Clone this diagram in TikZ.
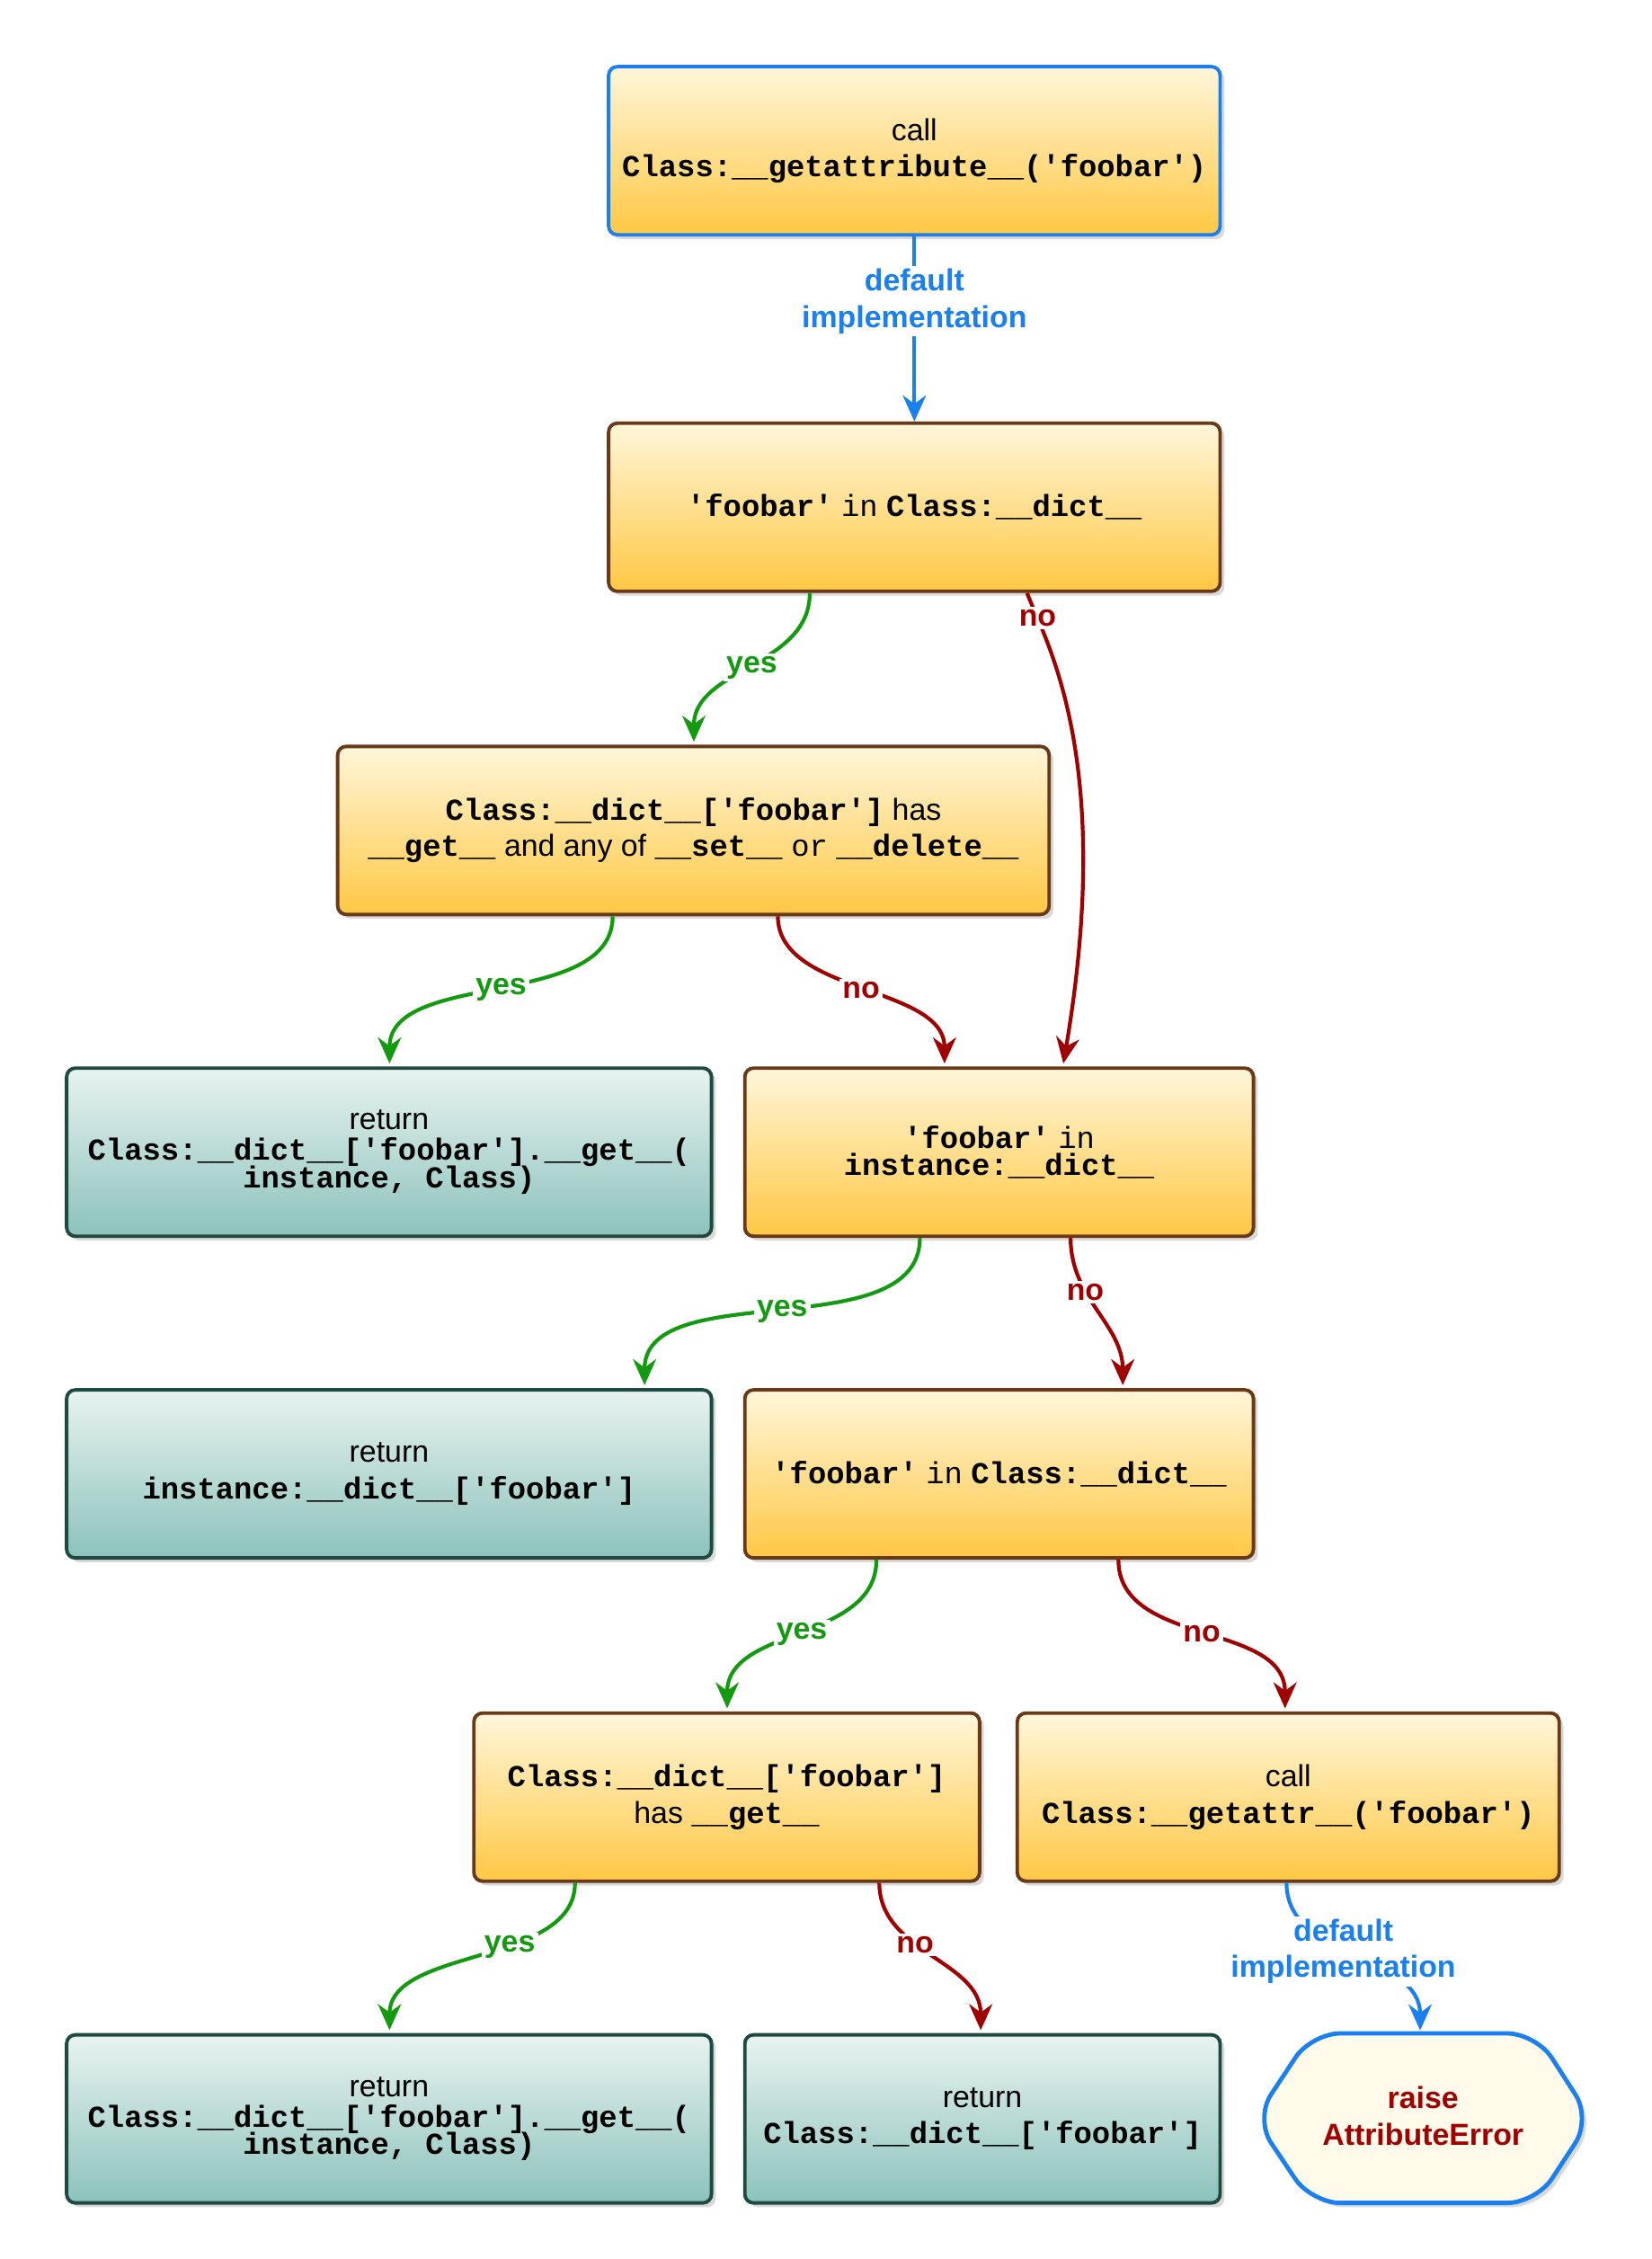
\documentclass[tikz,border=0pt]{standalone}
\usepackage{fontspec}
\setmainfont{Liberation Sans}
\setmonofont{Liberation Mono}
\usetikzlibrary{shadows,arrows.meta,calc}
\definecolor{obot}{HTML}{FFC844}
\definecolor{otop}{HTML}{FFF6DA}
\definecolor{tbot}{HTML}{8CC2BA}
\definecolor{ttop}{HTML}{E8F3F1}
\definecolor{brn}{HTML}{6A3A18}
\definecolor{tbrd}{HTML}{1F4A42}
\definecolor{blu}{HTML}{1A80F0}
\definecolor{grn}{HTML}{149A10}
\definecolor{rd}{HTML}{A00000}
\newcommand\tm[1]{\texttt{\textbf{#1}}}
\tikzset{
 box/.style={draw=brn,line width=1.2pt,rounded corners=3pt,top color=otop,bottom color=obot,
   align=center,inner sep=0pt,font=\fontsize{10.5}{12.5}\selectfont,
   drop shadow={opacity=0.3,shadow xshift=1.5pt,shadow yshift=-1.5pt}},
 tbox/.style={box,draw=tbrd,top color=ttop,bottom color=tbot},
 yes/.style={draw=grn,line width=1.3pt,-{Stealth[length=9pt,width=8pt]}},
 no/.style={draw=rd,line width=1.3pt,-{Stealth[length=9pt,width=8pt]}},
 bl/.style={draw=blu,line width=1.3pt,-{Stealth[length=9pt,width=8pt]}},
 lab/.style={fill=white,inner sep=1pt,font=\bfseries\fontsize{10.5}{12.5}\selectfont},
}
\begin{document}
\begin{tikzpicture}[x=0.5pt,y=-0.5pt]
\useasboundingbox (0,0) rectangle (1140,1558.7);
\node[box,draw=blu,minimum width=211pt,minimum height=58pt] (b1) at (631,104)
  {call\\\tm{Class:\_\_getattribute\_\_('foobar')}};
\node[box,minimum width=211pt,minimum height=58pt] (b2) at (631,350)
  {\tm{'foobar'} \texttt{in} \tm{Class:\_\_dict\_\_}};
\node[box,minimum width=245.5pt,minimum height=58pt] (b3) at (478.5,573)
  {\tm{Class:\_\_dict\_\_['foobar']} has\\\tm{\_\_get\_\_} and any of \tm{\_\_set\_\_} \texttt{or} \tm{\_\_delete\_\_}};
\node[tbox,minimum width=222.5pt,minimum height=58pt] (b4) at (268.5,795)
  {return\\[-2pt]\tm{Class:\_\_dict\_\_['foobar'].\_\_get\_\_(}\\[-3pt]\tm{instance, Class)}};
\node[box,minimum width=175.5pt,minimum height=58pt] (b5) at (689.5,795)
  {\tm{'foobar'} \texttt{in}\\[-3pt]\tm{instance:\_\_dict\_\_}};
\node[tbox,minimum width=222.5pt,minimum height=58pt] (b6) at (268.5,1017)
  {return\\\tm{instance:\_\_dict\_\_['foobar']}};
\node[box,minimum width=175.5pt,minimum height=58pt] (b7) at (689.5,1017)
  {\tm{'foobar'} \texttt{in} \tm{Class:\_\_dict\_\_}};
\node[box,minimum width=174.5pt,minimum height=58pt] (b8) at (501.5,1240)
  {\tm{Class:\_\_dict\_\_['foobar']}\\has \tm{\_\_get\_\_}};
\node[box,minimum width=187pt,minimum height=58pt] (b9) at (889,1240)
  {call\\\tm{Class:\_\_getattr\_\_('foobar')}};
\node[tbox,minimum width=222.5pt,minimum height=58pt] (b10) at (268.5,1462)
  {return\\[-2pt]\tm{Class:\_\_dict\_\_['foobar'].\_\_get\_\_(}\\[-3pt]\tm{instance, Class)}};
\node[tbox,minimum width=164pt,minimum height=58pt] (b11) at (678,1462)
  {return\\\tm{Class:\_\_dict\_\_['foobar']}};
\draw[draw=blu,line width=1.5pt,rounded corners=10pt,fill=otop!60!white,
  drop shadow={opacity=0.3,shadow xshift=1.5pt,shadow yshift=-1.5pt}]
  (866,1462)--(905,1403)--(1060,1403)--(1098,1462)--(1060,1520)--(905,1520)--cycle;
\node[align=center,text=rd,font=\bfseries\fontsize{10.5}{12.5}\selectfont] (b12) at (982,1460) {raise\\AttributeError};
\coordinate (h12) at (980,1401);
% edges
\draw[bl] (b1.south) -- node[lab,text=blu,align=center,pos=0.35]{default\\implementation} (b2.north);
\draw[yes] ($(b2.south west)+(140,0)$) to[out=-90,in=90,looseness=1] node[lab,text=grn]{yes} ($(b3.north west)+(247,-2)$);
\draw[no] ($(b2.south west)+(290,0)$) .. controls (720,440) and (770,520) .. node[lab,text=rd,pos=0.15]{no} ($(b5.north west)+(221,-2)$);
\draw[yes] ($(b3.south west)+(191,0)$) to[out=-90,in=90,looseness=0.9] node[lab,text=grn]{yes} ($(b4.north west)+(224,-2)$);
\draw[no] ($(b3.south west)+(305,0)$) to[out=-90,in=90,looseness=0.9] node[lab,text=rd]{no} ($(b5.north west)+(139,-2)$);
\draw[yes] ($(b5.south west)+(122,0)$) to[out=-90,in=90,looseness=0.9] node[lab,text=grn]{yes} ($(b6.north west)+(400,-2)$);
\draw[no] ($(b5.south west)+(226,0)$) to[out=-90,in=90,looseness=1] node[lab,text=rd,pos=0.35]{no} ($(b7.north west)+(262,-2)$);
\draw[yes] ($(b7.south west)+(92,0)$) to[out=-90,in=90,looseness=1] node[lab,text=grn]{yes} ($(b8.north west)+(176,-2)$);
\draw[no] ($(b7.south west)+(259,0)$) to[out=-90,in=90,looseness=1] node[lab,text=rd]{no} ($(b9.north west)+(186,-2)$);
\draw[yes] ($(b8.south west)+(71,0)$) to[out=-90,in=90,looseness=0.9] node[lab,text=grn,pos=0.4]{yes} ($(b10.north west)+(224,-2)$);
\draw[no] ($(b8.south west)+(281,0)$) to[out=-90,in=90,looseness=1] node[lab,text=rd,pos=0.4]{no} ($(b11.north west)+(164,-2)$);
\draw[bl] ($(b9.south west)+(187,0)$) to[out=-90,in=90,looseness=1] node[lab,text=blu,align=center,pos=0.45]{default\\implementation} (h12);
\end{tikzpicture}
\end{document}
